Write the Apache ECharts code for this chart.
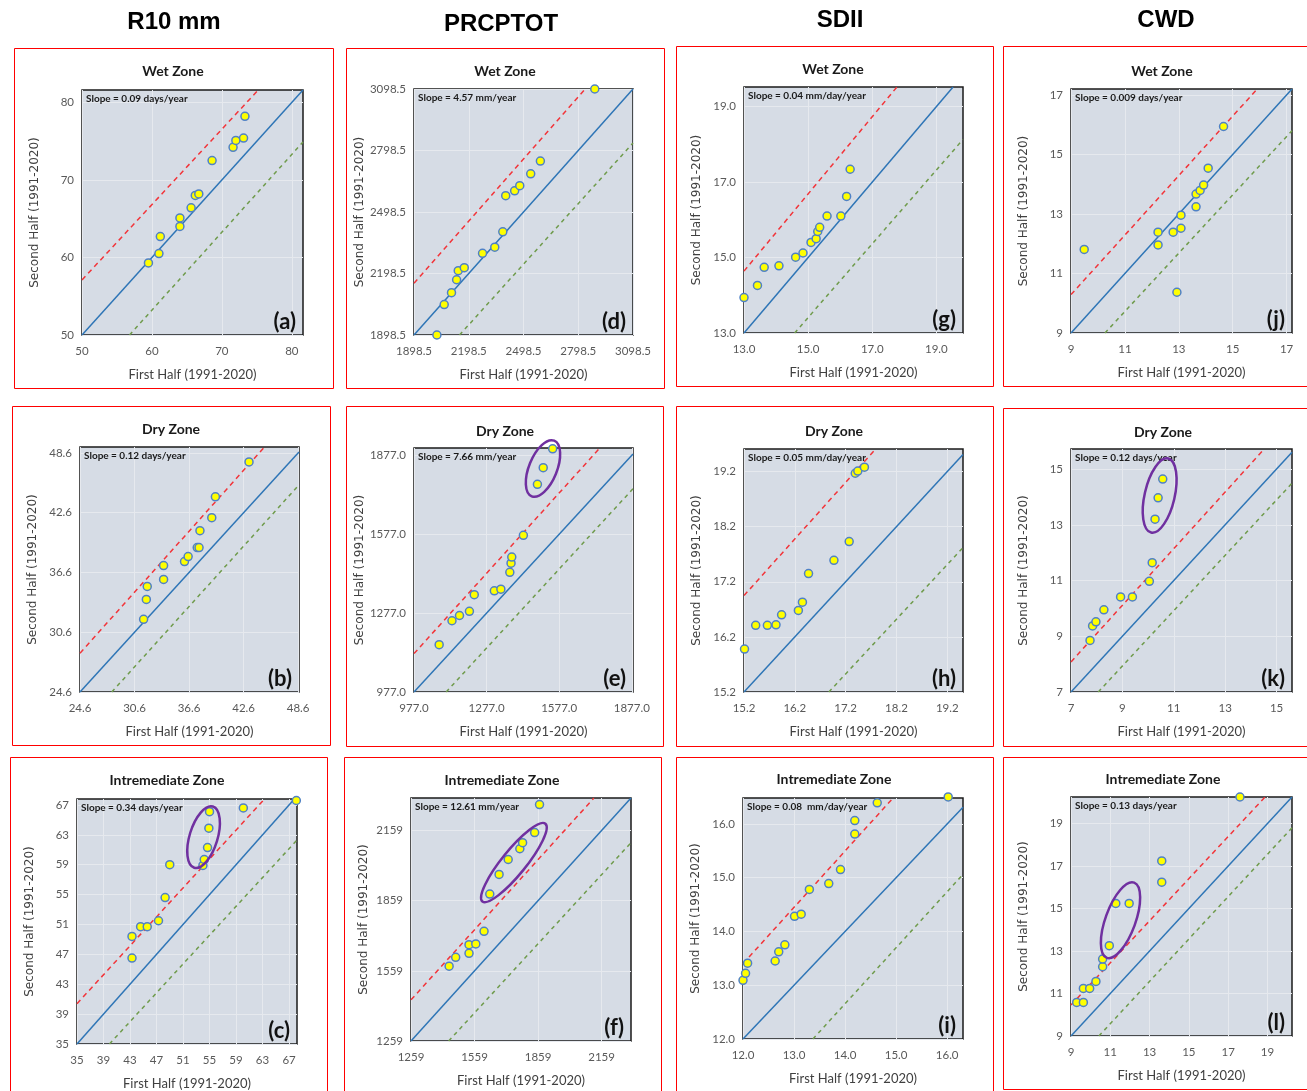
<!DOCTYPE html>
<html>
<head>
<meta charset="utf-8">
<script src="https://cdn.jsdelivr.net/npm/echarts@6/dist/echarts.min.js"></script>
<style>
	html, body { margin: 0; padding: 0; background: #fff; }
	#main { width: 1307px; height: 1091px; }
</style>
</head>
<body>
<div id="main"></div>
<script>
// column headers and zone names
var indexNames = ["R10 mm", "PRCPTOT", "SDII", "CWD"];
var zoneNames = ["Wet Zone", "Dry Zone", "Intremediate Zone"];
var panelLabels = ["(a)", "(b)", "(c)", "(d)", "(e)", "(f)", "(g)", "(h)", "(i)", "(j)", "(k)", "(l)"];

// (a) R10 mm - wet
var aFirst = [59.5, 61.0, 61.2, 64.0, 64.0, 65.6, 66.2, 66.7, 68.6, 71.6, 72.0, 73.1, 73.3];
var aSecond = [59.3, 60.5, 62.7, 64.0, 65.1, 66.4, 68.0, 68.2, 72.5, 74.2, 75.1, 75.4, 78.2];
var aTicks = [50, 60, 70, 80];
var aUpper = [[50, 57.1], [75.2, 81.6]];
var aLower = [[56.8, 50], [81.6, 74.9]];

// (b) R10 mm - dry
var bFirst = [31.6, 31.9, 32.0, 33.8, 33.8, 36.1, 36.5, 37.5, 37.7, 37.8, 39.1, 39.5, 43.2];
var bSecond = [31.9, 33.9, 35.2, 35.9, 37.3, 37.7, 38.2, 39.1, 39.1, 40.8, 42.1, 44.2, 47.7];
var bTicks = [24.6, 30.6, 36.6, 42.6, 48.6];
var bUpper = [[24.6, 28.5], [44.9, 49.2]];
var bLower = [[28.1, 24.6], [48.7, 45.4]];

// (c) R10 mm - intermediate
var cFirst = [43.3, 43.3, 44.6, 45.6, 47.3, 48.3, 49.0, 54.0, 54.2, 54.7, 54.9, 55.0, 60.1, 68.1];
var cSecond = [46.5, 49.4, 50.7, 50.7, 51.5, 54.6, 59.0, 58.9, 59.7, 61.3, 63.9, 66.1, 66.6, 67.6];
var cTicks = [35, 39, 43, 47, 51, 55, 59, 63, 67];
var cUpper = [[35, 40.4], [63.3, 67.8]];
var cLower = [[39.9, 35], [68.2, 62.3]];

// (d) PRCPTOT - wet
var dFirst = [2024, 2064, 2104, 2132, 2141, 2174, 2274, 2341, 2385, 2401, 2450, 2478, 2538, 2591, 2889];
var dSecond = [1898.5, 2047, 2105, 2168, 2212, 2227, 2297, 2327, 2402, 2578, 2602, 2627, 2685, 2747, 3098.5];
var dTicks = [1898.5, 2198.5, 2498.5, 2798.5, 3098.5];
var dUpper = [[1898.5, 2151], [2836, 3098.5]];
var dLower = [[2148, 1898.5], [3098.5, 2835]];

// (e) PRCPTOT - dry
var eFirst = [1081, 1134, 1165, 1206, 1226, 1309, 1336, 1373, 1378, 1381, 1429, 1487, 1511, 1550];
var eSecond = [1157, 1248, 1268, 1284, 1347, 1362, 1368, 1432, 1467, 1490, 1573, 1767, 1830, 1902];
var eTicks = [977, 1277, 1577, 1877];
var eUpper = [[977, 1123], [1745, 1905]];
var eLower = [[1110, 977], [1882, 1750]];

// (f) PRCPTOT - intermediate
var fFirst = [1439, 1470, 1533, 1533, 1565, 1604, 1631, 1675, 1718, 1773, 1786, 1843, 1866];
var fSecond = [1579, 1617, 1634, 1671, 1674, 1728, 1887, 1971, 2035, 2081, 2107, 2150, 2270];
var fTicks = [1259, 1559, 1859, 2159];
var fUpper = [[1259, 1435], [2123, 2298]];
var fLower = [[1437, 1259], [2298, 2107]];

// (g) SDII - wet
var gFirst = [13.0, 13.42, 13.63, 14.09, 14.61, 14.84, 15.09, 15.25, 15.30, 15.36, 15.59, 16.02, 16.20, 16.31];
var gSecond = [13.94, 14.26, 14.74, 14.78, 15.01, 15.12, 15.40, 15.50, 15.69, 15.80, 16.10, 16.10, 16.62, 17.34];
var gTicks = [13, 15, 17, 19];
var gUpper = [[13, 14.64], [17.77, 19.52]];
var gLower = [[14.58, 13], [19.83, 18.13]];

// (h) SDII - dry
var hFirst = [15.21, 15.43, 15.66, 15.83, 15.94, 16.27, 16.35, 16.47, 16.97, 17.27, 17.39, 17.44, 17.57];
var hSecond = [15.98, 16.41, 16.41, 16.42, 16.60, 16.68, 16.83, 17.35, 17.59, 17.93, 19.17, 19.21, 19.28];
var hTicks = [15.2, 16.2, 17.2, 18.2, 19.2];
var hUpper = [[15.2, 16.95], [17.79, 19.61]];
var hLower = [[16.87, 15.2], [19.51, 17.82]];

// (i) SDII - intermediate
var iFirst = [12.0, 12.05, 12.09, 12.63, 12.70, 12.82, 13.01, 13.14, 13.30, 13.68, 13.91, 14.19, 14.19, 14.63, 16.02];
var iSecond = [13.09, 13.22, 13.41, 13.45, 13.62, 13.75, 14.28, 14.32, 14.78, 14.89, 15.15, 15.81, 16.06, 16.39, 16.50];
var iTicks = [12, 13, 14, 15, 16];
var iUpper = [[12, 13.40], [14.94, 16.48]];
var iLower = [[13.37, 12], [16.31, 15.06]];

// (j) CWD - wet
var jFirst = [9.49, 12.23, 12.23, 12.79, 12.93, 13.08, 13.08, 13.64, 13.64, 13.79, 13.92, 14.09, 14.66];
var jSecond = [11.81, 12.39, 11.96, 12.39, 10.37, 12.96, 12.52, 13.67, 13.24, 13.79, 13.97, 14.54, 15.94];
var jTicks = [9, 11, 13, 15, 17];
var jUpper = [[9, 10.29], [15.91, 17.2]];
var jLower = [[10.26, 9], [17.2, 15.8]];

// (k) CWD - dry
var kFirst = [7.74, 7.84, 7.97, 8.28, 8.93, 9.39, 10.05, 10.16, 10.27, 10.39, 10.57];
var kSecond = [8.85, 9.37, 9.52, 9.95, 10.41, 10.41, 10.97, 11.64, 13.20, 13.97, 14.64];
var kTicks = [7, 9, 11, 13, 15];
var kUpper = [[7, 8.08], [14.52, 15.72]];
var kLower = [[8.06, 7], [15.6, 14.49]];

// (l) CWD - intermediate
var lFirst = [9.29, 9.63, 9.63, 9.95, 10.27, 10.61, 10.61, 10.95, 11.28, 11.96, 13.62, 13.62, 17.6];
var lSecond = [10.58, 10.58, 11.24, 11.24, 11.57, 12.26, 12.62, 13.25, 15.24, 15.24, 16.24, 17.24, 20.25];
var lTicks = [9, 11, 13, 15, 17, 19];
var lUpper = [[9, 10.46], [18.88, 20.25]];
var lLower = [[10.42, 9], [20.25, 18.8]];

var slopes = [
	"Slope = 0.09 days/year", "Slope = 0.12 days/year", "Slope = 0.34 days/year",
	"Slope = 4.57 mm/year", "Slope = 7.66 mm/year", "Slope = 12.61 mm/year",
	"Slope = 0.04 mm/day/year", "Slope = 0.05 mm/day/year", "Slope = 0.08  mm/day/year",
	"Slope = 0.009 days/year", "Slope = 0.12 days/year", "Slope = 0.13 days/year"
];

// circled groups: panel index, centre (data), tilt in degrees, radii in px
var circled = [
	{ panel: 2, x: 54.1, y: 62.7, tilt: 17, rx: 14, ry: 32 },
	{ panel: 4, x: 1510, y: 1827, tilt: 22, rx: 14, ry: 30 },
	{ panel: 5, x: 1745, y: 2022, tilt: 39, rx: 12, ry: 50 },
	{ panel: 10, x: 10.45, y: 14.05, tilt: 13, rx: 15, ry: 38 },
	{ panel: 11, x: 11.52, y: 14.45, tilt: 20, rx: 15, ry: 40 }
];

// layout of each panel (column-major: a b c d e f ...)
var panels = [
	{ first: aFirst, second: aSecond, ticks: aTicks, upper: aUpper, lower: aLower, min: 50, xMax: 81.6, yMax: 81.6, dec: 0, zone: 0, box: [14, 48, 333, 388], grid: [82, 90, 303, 335], title: [173, 71] },
	{ first: bFirst, second: bSecond, ticks: bTicks, upper: bUpper, lower: bLower, min: 24.6, xMax: 48.7, yMax: 49.2, dec: 1, zone: 1, box: [12, 406, 330, 745], grid: [80, 447, 299, 692], title: [171, 429] },
	{ first: cFirst, second: cSecond, ticks: cTicks, upper: cUpper, lower: cLower, min: 35, xMax: 68.2, yMax: 67.8, dec: 0, zone: 2, box: [10, 757, 327, 1096], grid: [77, 799, 297, 1044], title: [167, 780] },
	{ first: dFirst, second: dSecond, ticks: dTicks, upper: dUpper, lower: dLower, min: 1898.5, xMax: 3098.5, yMax: 3098.5, dec: 1, zone: 0, box: [346, 48, 664, 388], grid: [414, 89, 633, 335], title: [505, 71] },
	{ first: eFirst, second: eSecond, ticks: eTicks, upper: eUpper, lower: eLower, min: 977, xMax: 1882, yMax: 1905, dec: 1, zone: 1, box: [346, 406, 663, 746], grid: [414, 448, 633, 692], title: [505, 431] },
	{ first: fFirst, second: fSecond, ticks: fTicks, upper: fUpper, lower: fLower, min: 1259, xMax: 2298, yMax: 2298, dec: 0, zone: 2, box: [344, 757, 661, 1096], grid: [411, 798, 631, 1041], title: [502, 780] },
	{ first: gFirst, second: gSecond, ticks: gTicks, upper: gUpper, lower: gLower, min: 13, xMax: 19.83, yMax: 19.52, dec: 1, zone: 0, box: [676, 46, 993, 386], grid: [744, 87, 963, 333], title: [833, 69] },
	{ first: hFirst, second: hSecond, ticks: hTicks, upper: hUpper, lower: hLower, min: 15.2, xMax: 19.51, yMax: 19.61, dec: 1, zone: 1, box: [676, 406, 993, 746], grid: [744, 449, 963, 692], title: [834, 431] },
	{ first: iFirst, second: iSecond, ticks: iTicks, upper: iUpper, lower: iLower, min: 12, xMax: 16.31, yMax: 16.48, dec: 1, zone: 2, box: [676, 757, 993, 1096], grid: [743, 798, 963, 1039], title: [834, 779] },
	{ first: jFirst, second: jSecond, ticks: jTicks, upper: jUpper, lower: jLower, min: 9, xMax: 17.2, yMax: 17.2, dec: 0, zone: 0, box: [1003, 46, 1312, 386], grid: [1071, 89, 1292, 333], title: [1162, 71] },
	{ first: kFirst, second: kSecond, ticks: kTicks, upper: kUpper, lower: kLower, min: 7, xMax: 15.6, yMax: 15.72, dec: 0, zone: 1, box: [1003, 408, 1312, 746], grid: [1071, 449, 1292, 692], title: [1163, 432] },
	{ first: lFirst, second: lSecond, ticks: lTicks, upper: lUpper, lower: lLower, min: 9, xMax: 20.25, yMax: 20.25, dec: 0, zone: 2, box: [1003, 757, 1312, 1089], grid: [1071, 797, 1292, 1036], title: [1163, 779] }
];
var headerPos = [[174, 22], [501, 24], [840, 20], [1166, 20]];

var chart = echarts.init(document.getElementById("main"));

var grids = [], xAxes = [], yAxes = [], series = [], graphics = [];

function makeAxis(p, i, isX) {
	var max = isX ? p.xMax : p.yMax;
	return {
		type: "value",
		gridIndex: i,
		min: p.min,
		max: max,
		name: isX ? "First Half (1991-2020)" : "Second Half (1991-2020)",
		nameLocation: "middle",
		nameGap: isX ? 33 : 41,
		nameTextStyle: isX
			? { fontFamily: "Lato", fontSize: 13, color: "#404040" }
			: { fontFamily: "DejaVu Sans", fontSize: 12, color: "#404040" },
		axisLine: { show: false },
		axisTick: { show: false, customValues: p.ticks },
		axisLabel: {
			customValues: p.ticks,
			fontFamily: "Lato",
			fontSize: 11.5,
			color: "#595959",
			margin: isX ? 10 : 8,
			formatter: function (v) {
				return Number(v).toFixed(p.dec);
			}
		},
		splitLine: { show: true, lineStyle: { color: "#e6e9ee", width: 1 } }
	};
}

panels.forEach(function (p, i) {
	var g = p.grid;
	grids.push({
		left: g[0], top: g[1], width: g[2] - g[0], height: g[3] - g[1],
		show: true, backgroundColor: "#d6dce5", borderColor: "#1a1a1a", borderWidth: 1.5,
		containLabel: false, outerBoundsMode: "none"
	});
	xAxes.push(makeAxis(p, i, true));
	yAxes.push(makeAxis(p, i, false));

	var m = Math.min(p.xMax, p.yMax);
	series.push({
		type: "line", xAxisIndex: i, yAxisIndex: i, silent: true, symbol: "none", z: 2,
		data: [[p.min, p.min], [m, m]],
		lineStyle: { color: "#2e75b6", width: 1.5 }
	});
	series.push({
		type: "line", xAxisIndex: i, yAxisIndex: i, silent: true, symbol: "none", z: 2,
		data: p.upper,
		lineStyle: { color: "#f2353a", width: 1.5, type: [5, 4] }
	});
	series.push({
		type: "line", xAxisIndex: i, yAxisIndex: i, silent: true, symbol: "none", z: 2,
		data: p.lower,
		lineStyle: { color: "#6f9b4c", width: 1.5, type: [4, 4] }
	});
	series.push({
		type: "scatter", xAxisIndex: i, yAxisIndex: i, clip: false, z: 5,
		symbolSize: 8,
		data: p.first.map(function (x, k) { return [x, p.second[k]]; }),
		itemStyle: { color: "#ffff00", borderColor: "#4f81c7", borderWidth: 1.5, opacity: 1 }
	});

	// red frame of the panel
	graphics.push({
		type: "rect", z: 0,
		shape: { x: p.box[0] + 0.5, y: p.box[1] + 0.5, width: p.box[2] - p.box[0], height: p.box[3] - p.box[1] },
		style: { fill: "none", stroke: "#ff0000", lineWidth: 1 }
	});
	graphics.push({
		type: "text", x: p.title[0], y: p.title[1], z: 10,
		style: { text: zoneNames[p.zone], font: "bold 14px Lato", fill: "#1a1a1a", align: "center", verticalAlign: "middle" }
	});
	graphics.push({
		type: "text", x: g[0] + 4, y: g[1] + 4, z: 10,
		style: { text: slopes[i], font: "bold 10px Lato", fill: "#1a1a1a", align: "left", verticalAlign: "top" }
	});
	graphics.push({
		type: "text", x: g[2] - 7, y: g[3] - 2, z: 10,
		style: { text: panelLabels[i], font: "bold 22px Lato", fill: "#111", align: "right", verticalAlign: "bottom" }
	});
});

indexNames.forEach(function (name, c) {
	graphics.push({
		type: "text", x: headerPos[c][0], y: headerPos[c][1], z: 10,
		style: { text: name, font: "bold 24px 'Liberation Sans'", fill: "#000", align: "center", verticalAlign: "middle" }
	});
});

chart.setOption({
	animation: false,
	backgroundColor: "#ffffff",
	grid: grids,
	xAxis: xAxes,
	yAxis: yAxes,
	series: series,
	graphic: graphics
});

// purple ellipses around the highlighted points
circled.forEach(function (e) {
	var pt = chart.convertToPixel({ gridIndex: e.panel }, [e.x, e.y]);
	graphics.push({
		type: "ellipse", x: pt[0], y: pt[1], z: 20,
		rotation: -e.tilt * Math.PI / 180,
		shape: { cx: 0, cy: 0, rx: e.rx, ry: e.ry },
		style: { fill: "none", stroke: "#7030a0", lineWidth: 2.5 }
	});
});
chart.setOption({ graphic: graphics });
</script>
</body>
</html>
